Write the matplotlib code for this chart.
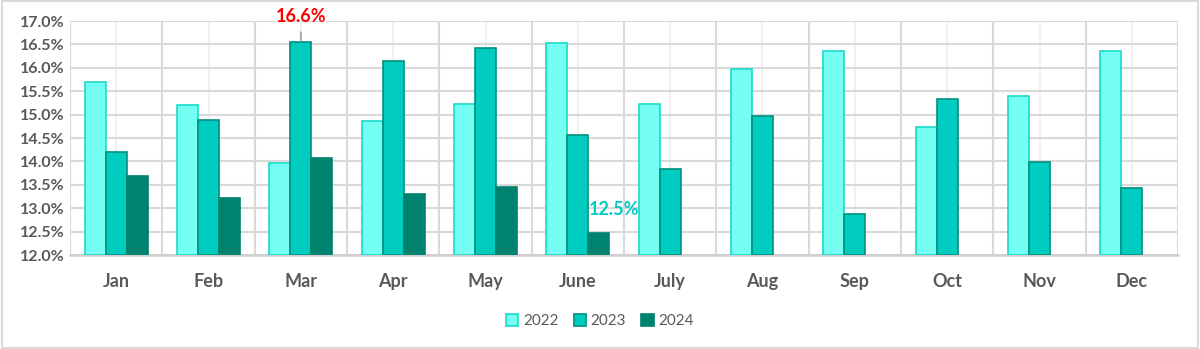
import matplotlib
matplotlib.use("Agg")
import matplotlib.pyplot as plt
import numpy as np
from matplotlib.patches import Rectangle
from matplotlib.ticker import FuncFormatter, MultipleLocator

months = ["Jan", "Feb", "Mar", "Apr", "May", "June", "July", "Aug", "Sep", "Oct", "Nov", "Dec"]
y2022 = [15.70, 15.21, 13.97, 14.87, 15.22, 16.54, 15.22, 15.97, 16.36, 14.73, 15.40, 16.36]
y2023 = [14.20, 14.88, 16.56, 16.15, 16.42, 14.57, 13.84, 14.98, 12.88, 15.33, 13.99, 13.44]
y2024 = [13.69, 13.22, 14.07, 13.30, 13.45, 12.48]
series_names = ["2022", "2023", "2024"]

plt.rcParams['font.family'] = ['Lato', 'DejaVu Sans']

fig = plt.figure(figsize=(12, 3.49), dpi=100)
ax = fig.add_axes([70/1200, 1-255/349, 1108/1200, 234/349])

x = np.arange(len(months))
w = 0.227
face = ["#75FFF3", "#00CCC0", "#00836E"]
edge = ["#1AD9CC", "#008F80", "#00836E"]
base = 12.0
for i, (vals, name) in enumerate(zip([y2022, y2023, y2024], series_names)):
    xs = x[:len(vals)] + (i - 1) * w
    ax.bar(xs, np.array(vals) - base, width=w, bottom=base, color=face[i],
           edgecolor=edge[i], linewidth=1.2, label=name, zorder=3)

ax.set_xlim(-0.5, 11.5)
ax.set_ylim(12.0, 17.0)
ax.yaxis.set_major_locator(MultipleLocator(0.5))
ax.yaxis.set_major_formatter(FuncFormatter(lambda v, p: f"{v:.1f}%"))
ax.set_xticks(x)
ax.set_xticklabels(months)
ax.set_xticks(np.arange(-0.5, 12, 1), minor=True)
ax.tick_params(axis='both', which='both', length=0)
ax.tick_params(axis='y', labelsize=11.5, labelcolor="#595959", pad=4)
ax.tick_params(axis='x', labelsize=13, labelcolor="#595959", pad=13)
for lab in ax.get_yticklabels() + ax.get_xticklabels():
    lab.set_fontweight('bold')

ax.grid(axis='y', which='major', color="#d9d9d9", linewidth=1.5, zorder=0)
ax.grid(axis='x', which='minor', color="#d9d9d9", linewidth=1.5, zorder=0)
ax.grid(axis='x', which='major', color="#efefef", linewidth=1.2, zorder=0)
for s in ["top", "right", "left"]:
    ax.spines[s].set_visible(False)
ax.spines["bottom"].set_color("#d0d0d0")
ax.spines["bottom"].set_linewidth(1.8)

# annotations
ax.annotate(f"{y2023[2]:.1f}%", xy=(2, y2023[2] + 0.02), xytext=(2, 17.09),
            ha='center', va='center', color="#FF0000", fontsize=13, fontweight='bold',
            annotation_clip=False,
            arrowprops=dict(arrowstyle='-', color="#a6a6a6", lw=1.3, shrinkA=3, shrinkB=0))
ax.text(5 + w + 0.17, 12.97, f"{y2024[5]:.1f}%", ha='center', va='center',
        color="#00CCC0", fontsize=13, fontweight='bold', zorder=4)

leg = fig.legend(loc='center', bbox_to_anchor=(0.5, 1-321/349), ncol=3, frameon=False,
                 fontsize=11, handlelength=0.8, handleheight=0.8, handletextpad=0.3,
                 columnspacing=1.0)
for t in leg.get_texts():
    t.set_color("#595959")

fig.patches.append(Rectangle((0.002, 0.004), 0.996, 0.992, transform=fig.transFigure,
                             fill=False, edgecolor="#d9d9d9", linewidth=1.5))

fig.savefig("out.png", dpi=100)
